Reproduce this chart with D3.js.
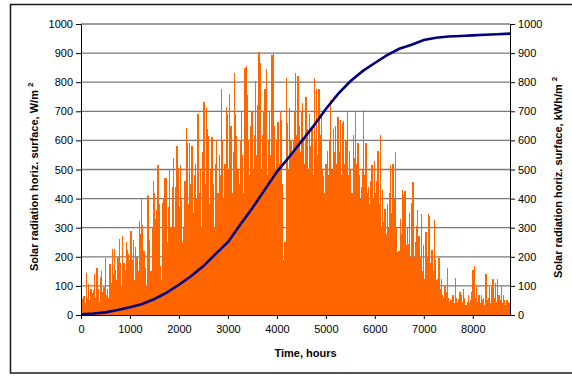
<!DOCTYPE html>
<html>
<head>
<meta charset="utf-8">
<script src="https://cdn.jsdelivr.net/npm/d3@7"></script>
<style>
    body { margin: 0; background: #ffffff; }
    text { font-family: Arial, "Liberation Sans", sans-serif; }
</style>
</head>
<body>
<div id="chart"></div>
<script>
// daily peak of hourly radiation, W/m2 (day 0 .. 364)
const dailyPeak = [
    70, 55, 65, 40, 145, 60, 105, 50, 90, 75,
    85, 140, 60, 160, 90, 45, 130, 150, 80, 95,
    195, 70, 90, 60, 175, 110, 228, 140, 228, 155,
    120, 200, 262, 180, 95, 273, 178, 150, 252, 225,
    210, 190, 288, 190, 257, 120, 235, 200, 150, 322,
    280, 397, 310, 220, 160, 100, 414, 410, 257, 150,
    300, 460, 420, 330, 360, 514, 380, 170, 120, 385,
    400, 470, 471, 250, 370, 500, 300, 440, 540, 300,
    440, 580, 505, 370, 515, 400, 250, 300, 460, 643,
    590, 380, 592, 450, 580, 350, 480, 520, 400, 691,
    420, 500, 300, 560, 731, 450, 711, 640, 614, 380,
    500, 610, 450, 300, 520, 600, 420, 550, 480, 777,
    600, 400, 520, 716, 690, 500, 758, 650, 420, 560,
    832, 690, 614, 500, 450, 600, 700, 550, 420, 849,
    855, 755, 600, 480, 650, 700, 500, 620, 803, 550,
    720, 904, 867, 500, 620, 700, 777, 846, 480, 600,
    700, 550, 895, 901, 650, 500, 600, 664, 520, 700,
    670, 450, 190, 250, 815, 660, 500, 711, 600, 550,
    600, 700, 830, 620, 820, 650, 560, 700, 730, 600,
    520, 750, 640, 500, 690, 580, 640, 480, 815, 600,
    777, 550, 775, 620, 690, 500, 477, 420, 520, 565,
    480, 600, 740, 500, 640, 560, 650, 520, 680, 560,
    670, 480, 660, 665, 520, 600, 696, 480, 565, 500,
    420, 620, 540, 700, 520, 590, 480, 400, 440, 500,
    705, 480, 590, 420, 440, 380, 460, 515, 400, 530,
    420, 460, 565, 380, 620, 300, 430, 320, 365, 280,
    380, 300, 420, 515, 350, 520, 400, 560, 300, 215,
    220, 330, 280, 430, 414, 425, 240, 300, 245, 351,
    200, 385, 456, 200, 250, 305, 360, 270, 200, 347,
    150, 240, 125, 285, 200, 347, 340, 180, 225, 150,
    325, 190, 120, 125, 196, 90, 122, 70, 60, 100,
    80, 162, 60, 45, 53, 50, 70, 40, 128, 60,
    40, 55, 80, 70, 45, 90, 60, 35, 45, 70,
    40, 50, 80, 156, 168, 60, 100, 45, 70, 40,
    70, 50, 60, 35, 140, 50, 60, 95, 40, 95,
    122, 60, 110, 45, 122, 70, 50, 100, 40, 70,
    50, 35, 50, 45, 40
];
// cumulative radiation, kWh/m2
const cumHours = [0, 250, 500, 750, 1000, 1250, 1500, 1750, 2000, 2250, 2500, 2750, 3000,
    3250, 3500, 3750, 4000, 4250, 4500, 4750, 5000, 5250, 5500, 5750, 6000, 6250, 6500,
    6750, 7000, 7250, 7500, 7750, 8000, 8250, 8500, 8760];
const cumEnergy = [2, 5, 9, 17, 27, 38, 55, 77, 104, 134, 168, 210, 250,
    310, 368, 430, 492, 543, 596, 650, 708, 760, 803, 838, 866, 893, 915,
    929, 945, 953, 957, 959, 961, 963, 965, 967];
const xTicks = [0, 1000, 2000, 3000, 4000, 5000, 6000, 7000, 8000];
const yTicks = [0, 100, 200, 300, 400, 500, 600, 700, 800, 900, 1000];

const W = 572, H = 377;
const plotLeft = 81, plotRight = 510, plotTop = 24, plotBottom = 315;

const svg = d3.select('#chart').append('svg')
    .attr('width', W)
    .attr('height', H);
svg.append('rect').attr('width', W).attr('height', H).attr('fill', '#ffffff');

// outer frame (runs off the right edge in the original)
svg.append('rect')
    .attr('x', 10.5).attr('y', 4.5)
    .attr('width', 600).attr('height', 368.5)
    .attr('fill', 'none')
    .attr('stroke', '#1a1a1a')
    .attr('stroke-width', 1.5);

const x = d3.scaleLinear().domain([0, 8760]).range([plotLeft, plotRight]);
const yL = d3.scaleLinear().domain([0, 1000]).range([plotBottom, plotTop]);
const yR = d3.scaleLinear().domain([0, 1000]).range([plotBottom, plotTop]);

// gridlines
svg.append('g')
    .selectAll('line')
    .data(yTicks.filter(d => d > 0))
    .enter().append('line')
    .attr('x1', plotLeft).attr('x2', plotRight)
    .attr('y1', d => yL(d)).attr('y2', d => yL(d))
    .attr('stroke', '#7a7a7a')
    .attr('stroke-width', 1.3);

// hourly radiation, one spike per day
const dayW = x(24) - x(0);
svg.append('g')
    .attr('shape-rendering', 'crispEdges')
    .selectAll('rect')
    .data(dailyPeak)
    .enter().append('rect')
    .attr('x', (d, i) => x(i * 24))
    .attr('width', dayW + 0.15)
    .attr('y', d => yL(d))
    .attr('height', d => yL(0) - yL(d))
    .attr('fill', '#ff6600');

// cumulative curve
const cum = cumHours.map((h, i) => [h, cumEnergy[i]]);
svg.append('path')
    .datum(cum)
    .attr('d', d3.line().x(d => x(d[0])).y(d => yR(d[1])))
    .attr('fill', 'none')
    .attr('stroke', '#000080')
    .attr('stroke-width', 2.6);

// axes
const styleAxis = g => {
    g.selectAll('path').attr('stroke', '#000000');
    g.selectAll('line').attr('stroke', '#000000');
    g.selectAll('text').attr('fill', '#000000').style('font-size', '11px');
    g.attr('font-family', null);
};
svg.append('g')
    .attr('transform', 'translate(' + plotLeft + ',0)')
    .call(d3.axisLeft(yL).tickValues(yTicks).tickFormat(d3.format('d')).tickSize(5).tickSizeOuter(0).tickPadding(3))
    .call(styleAxis);
svg.append('g')
    .attr('transform', 'translate(' + plotRight + ',0)')
    .call(d3.axisRight(yR).tickValues(yTicks).tickFormat(d3.format('d')).tickSize(5).tickSizeOuter(0).tickPadding(3))
    .call(styleAxis);
svg.append('g')
    .attr('transform', 'translate(0,' + plotBottom + ')')
    .call(d3.axisBottom(x).tickValues(xTicks).tickFormat(d3.format('d')).tickSize(4).tickSizeOuter(0).tickPadding(6))
    .call(styleAxis);

// titles
svg.append('text')
    .attr('x', (plotLeft + plotRight) / 2 + 10)
    .attr('y', 357)
    .attr('text-anchor', 'middle')
    .style('font-size', '11px')
    .style('font-weight', 'bold')
    .text('Time, hours');

const yTitle = (px, py, label) => {
    const t = svg.append('text')
        .attr('transform', 'translate(' + px + ',' + py + ') rotate(-90)')
        .attr('text-anchor', 'start')
        .style('font-size', '11px')
        .style('font-weight', 'bold')
        .text(label);
    t.append('tspan').attr('dy', -5).style('font-size', '8px').text('2');
};
yTitle(38, 271, 'Solar radiation horiz. surface, W/m ');
yTitle(562, 278, 'Solar radiation horiz. surface, kWh/m ');
</script>
</body>
</html>
